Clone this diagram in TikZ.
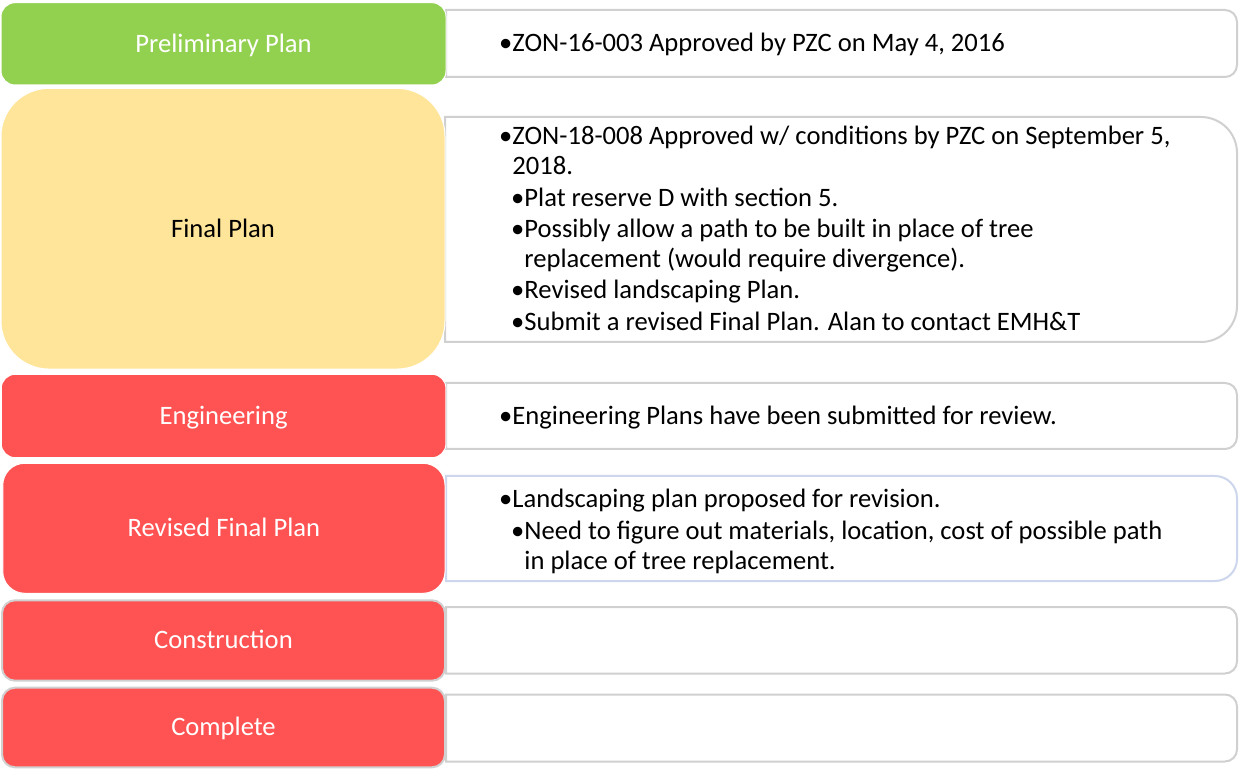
\documentclass[tikz,border=0pt]{standalone}
\usepackage{fontspec}
\setmainfont{Carlito}
\definecolor{pgreen}{RGB}{146,208,80}
\definecolor{pyellow}{RGB}{255,229,153}
\definecolor{pred}{RGB}{255,82,82}
\definecolor{pgray}{RGB}{208,208,208}
\definecolor{pblue}{RGB}{205,214,236}
\tikzset{
  lbox/.style={rectangle, inner sep=0pt, text height=16.8pt, text depth=0pt, font=\fontsize{26.6}{30}\selectfont},
  lwhite/.style={lbox, draw=white, line width=1pt, text=white},
  lgrayb/.style={lbox, draw=pgray, line width=2pt, text=white},
  rbox/.style={draw=pgray, line width=2pt, fill=white},
  rtext/.style={anchor=base west, inner sep=0pt, align=left, font=\fontsize{26.6}{30}\selectfont, text=black},
}
\begin{document}
\begin{tikzpicture}[x=1pt,y=1pt]
\useasboundingbox[fill=white] (0,0) rectangle (1239,769);
% right boxes (drawn first, left boxes overlap their left edge)
\draw[rbox] (446,759) -- (1225,759) arc[start angle=90,end angle=0,radius=12] -- (1237,704) arc[start angle=0,end angle=-90,radius=12] -- (446,692) -- cycle;
\draw[rbox] (445,652) -- (1201,652) arc[start angle=90,end angle=0,radius=36] -- (1237,463) arc[start angle=0,end angle=-90,radius=36] -- (445,427) -- cycle;
\draw[rbox] (446,386) -- (1225,386) arc[start angle=90,end angle=0,radius=12] -- (1237,332) arc[start angle=0,end angle=-90,radius=12] -- (446,320) -- cycle;
\draw[rbox, draw=pblue] (446,293) -- (1215,293) arc[start angle=90,end angle=0,radius=22] -- (1237,210) arc[start angle=0,end angle=-90,radius=22] -- (446,188) -- cycle;
\draw[rbox] (446,162) -- (1225,162) arc[start angle=90,end angle=0,radius=12] -- (1237,107.5) arc[start angle=0,end angle=-90,radius=12] -- (446,95.5) -- cycle;
\draw[rbox] (446,74.5) -- (1225,74.5) arc[start angle=90,end angle=0,radius=12] -- (1237,19.5) arc[start angle=0,end angle=-90,radius=12] -- (446,7.5) -- cycle;
% left boxes
\node[lwhite, fill=pgreen, rounded corners=14pt, minimum width=445pt, minimum height=82.3pt] (prelim) at (223.5,725.15) {Preliminary Plan};
\node[lbox, draw=white, line width=1pt, fill=pyellow, text=black, rounded corners=48pt, minimum width=444pt, minimum height=280.7pt] (final) at (223,540.3) {Final Plan};
\node[lwhite, fill=pred, rounded corners=14pt, minimum width=444.7pt, minimum height=83.4pt] (eng) at (223.6,353) {Engineering};
\node[lwhite, fill=pred, rounded corners=22pt, minimum width=442.3pt, minimum height=130pt] (revised) at (223.9,240.7) {Revised Final Plan};
\node[lgrayb, fill=pred, rounded corners=13pt, minimum width=443pt, minimum height=80.4pt] (constr) at (223.5,128.5) {Construction};
\node[lgrayb, fill=pred, rounded corners=13pt, minimum width=443pt, minimum height=79.6pt] (complete) at (223.5,41.5) {Complete};
% right texts (anchor base = baseline of the last line)
\node[rtext] (t1) at (499,717) {•ZON-16-003 Approved by PZC on May 4, 2016};
\node[rtext] (t2a) at (499,594) {•ZON-18-008 Approved w/ conditions by PZC on September 5,\\\hphantom{•}2018.};
\node[rtext] (t2b) at (511,562) {•Plat reserve D with section 5.};
\node[rtext] (t2c) at (511,501) {•Possibly allow a path to be built in place of tree\\\hphantom{•}replacement (would require divergence).};
\node[rtext] (t2d) at (511,470) {•Revised landscaping Plan.};
\node[rtext] (t2e) at (511,438) {•Submit a revised Final Plan. Alan to contact EMH\&T};
\node[rtext] (t3) at (499,344) {•Engineering Plans have been submitted for review.};
\node[rtext] (t4a) at (499,261.5) {•Landscaping plan proposed for revision.};
\node[rtext] (t4b) at (511,200) {•Need to figure out materials, location, cost of possible path\\\hphantom{•}in place of tree replacement.};
\end{tikzpicture}
\end{document}
